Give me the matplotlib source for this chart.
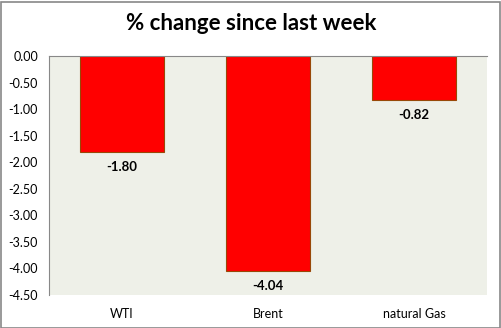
import matplotlib
matplotlib.use("Agg")
import matplotlib.pyplot as plt
from matplotlib.patches import Rectangle

categories = ["WTI", "Brent", "natural Gas"]
values = [-1.80, -4.04, -0.82]
yticks = [0.0, -0.5, -1.0, -1.5, -2.0, -2.5, -3.0, -3.5, -4.0, -4.5]
title = "% change since last week"

plt.rcParams['font.family'] = ['Lato', 'DejaVu Sans']

W, H = 502, 328
fig = plt.figure(figsize=(W / 100, H / 100), dpi=100)
fig.patch.set_facecolor("white")
fig.add_artist(Rectangle((0.5 / W, 0.5 / H), 1 - 2.5 / W, 1 - 2.5 / H,
                         transform=fig.transFigure, fill=False,
                         edgecolor="#888888", linewidth=1.2))

left, right, top, bottom = 49, 487, 56, 295
ax = fig.add_axes([left / W, 1 - bottom / H, (right - left) / W, (bottom - top) / H])
ax.set_facecolor("#EEF0E8")

x = list(range(len(categories)))
ax.bar(x, values, width=0.57, color="#FF0000", edgecolor="#984807", linewidth=0.8)
for xi, v in zip(x, values):
    ax.text(xi, v - 0.17, f"{v:.2f}", ha="center", va="top",
            fontsize=9.5, fontweight="bold", color="black")

ax.set_xlim(-0.5, len(categories) - 0.5)
ax.set_ylim(-4.5, 0.0)
ax.set_yticks(yticks)
ax.set_yticklabels([f"{t:.2f}" for t in yticks], fontsize=9)
ax.set_xticks(x)
ax.set_xticklabels(categories, fontsize=9)
ax.tick_params(axis="y", length=0, pad=8)
ax.tick_params(axis="x", length=0, pad=9)

for s in ["right", "bottom"]:
    ax.spines[s].set_visible(False)
ax.spines["left"].set_color("#888888")
ax.spines["top"].set_color("#888888")
ax.spines["left"].set_linewidth(0.8)
ax.spines["top"].set_linewidth(0.8)

fig.text(0.5, 1 - 24 / H, title, ha="center", va="center",
         fontsize=16, fontweight="bold")

fig.savefig("out.png", dpi=100)
